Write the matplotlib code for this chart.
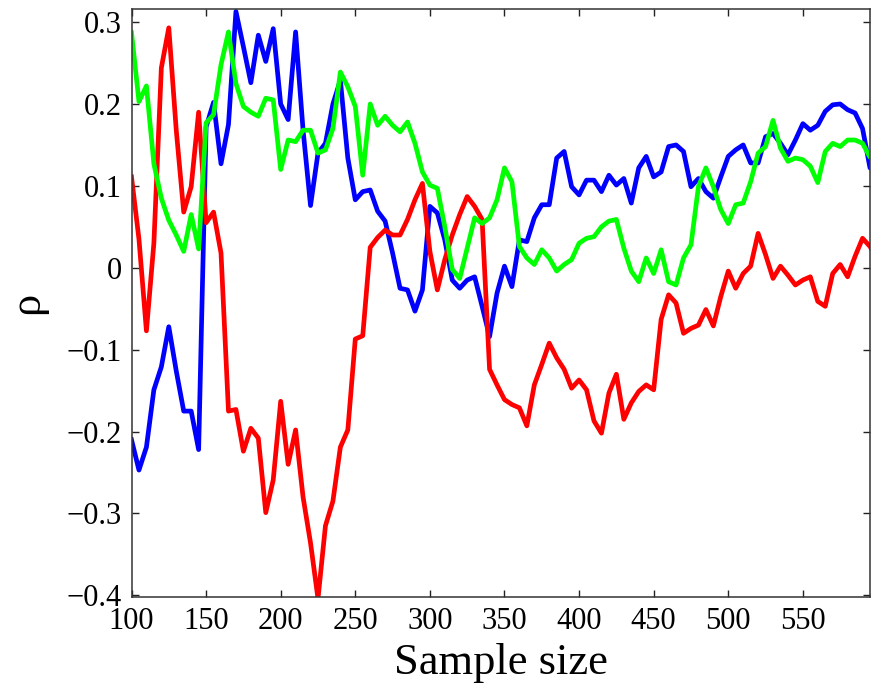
import numpy as np
import matplotlib
matplotlib.use("Agg")
import matplotlib.pyplot as plt
from matplotlib.ticker import FixedLocator, FixedFormatter

sample_size = list(range(100, 605, 5))

blue = [-0.210, -0.247, -0.219, -0.149, -0.121, -0.072, -0.126, -0.175, -0.175, -0.222,
        0.172, 0.202, 0.127, 0.175, 0.313, 0.270, 0.226, 0.284, 0.252, 0.292,
        0.200, 0.181, 0.288, 0.168, 0.076, 0.140, 0.152, 0.200, 0.229, 0.134,
        0.083, 0.093, 0.095, 0.069, 0.057, 0.018, -0.025, -0.027, -0.053, -0.027,
        0.075, 0.067, 0.034, -0.015, -0.025, -0.015, -0.011, -0.047, -0.084, -0.031,
        0.002, -0.023, 0.034, 0.032, 0.061, 0.077, 0.077, 0.134, 0.142, 0.099,
        0.089, 0.107, 0.107, 0.093, 0.113, 0.101, 0.109, 0.079, 0.122, 0.136,
        0.111, 0.117, 0.148, 0.150, 0.142, 0.099, 0.109, 0.093, 0.085, 0.111,
        0.136, 0.144, 0.150, 0.128, 0.128, 0.160, 0.164, 0.152, 0.138, 0.156,
        0.176, 0.168, 0.174, 0.191, 0.199, 0.200, 0.193, 0.189, 0.170, 0.122,
        0.120]

red = [0.111, 0.035, -0.077, 0.030, 0.244, 0.293, 0.168, 0.068, 0.099, 0.190,
       0.055, 0.068, 0.018, -0.175, -0.173, -0.224, -0.196, -0.208, -0.299, -0.259,
       -0.163, -0.240, -0.198, -0.280, -0.336, -0.404, -0.315, -0.285, -0.219, -0.198,
       -0.087, -0.083, 0.025, 0.037, 0.046, 0.040, 0.040, 0.059, 0.083, 0.103,
       0.020, -0.027, 0.010, 0.040, 0.065, 0.087, 0.075, 0.059, -0.124, -0.143,
       -0.161, -0.167, -0.171, -0.193, -0.143, -0.118, -0.092, -0.110, -0.124, -0.147,
       -0.137, -0.149, -0.187, -0.202, -0.153, -0.130, -0.185, -0.165, -0.151, -0.143,
       -0.149, -0.063, -0.033, -0.043, -0.080, -0.074, -0.070, -0.051, -0.071, -0.035,
       -0.004, -0.025, -0.007, 0.002, 0.042, 0.016, -0.013, 0.002, -0.009, -0.021,
       -0.015, -0.011, -0.041, -0.047, -0.007, 0.004, -0.011, 0.014, 0.036, 0.026,
       0.010]

green = [0.287, 0.203, 0.222, 0.127, 0.085, 0.058, 0.040, 0.020, 0.065, 0.023,
         0.177, 0.187, 0.248, 0.288, 0.225, 0.197, 0.190, 0.185, 0.207, 0.205,
         0.120, 0.156, 0.154, 0.168, 0.168, 0.140, 0.144, 0.170, 0.239, 0.221,
         0.197, 0.113, 0.200, 0.174, 0.185, 0.174, 0.166, 0.178, 0.152, 0.117,
         0.101, 0.097, 0.050, -0.002, -0.013, 0.024, 0.061, 0.054, 0.061, 0.083,
         0.122, 0.105, 0.026, 0.012, 0.004, 0.022, 0.012, -0.004, 0.004, 0.010,
         0.030, 0.036, 0.038, 0.050, 0.057, 0.059, 0.024, -0.004, -0.017, 0.012,
         -0.007, 0.022, -0.017, -0.021, 0.012, 0.028, 0.099, 0.122, 0.099, 0.071,
         0.054, 0.077, 0.079, 0.105, 0.140, 0.148, 0.180, 0.146, 0.130, 0.134,
         0.132, 0.124, 0.104, 0.142, 0.152, 0.148, 0.156, 0.156, 0.152, 0.135,
         0.160]

x_ticks = [100, 150, 200, 250, 300, 350, 400, 450, 500, 550]
x_tick_labels = ["100", "150", "200", "250", "300", "350", "400", "450", "500", "550"]
y_ticks = [-0.4, -0.3, -0.2, -0.1, 0.0, 0.1, 0.2, 0.3]
y_tick_labels = ["\u22120.4", "\u22120.3", "\u22120.2", "\u22120.1", "0", "0.1", "0.2", "0.3"]

plt.rcParams['font.family'] = ['Liberation Serif', 'DejaVu Serif']

fig = plt.figure(figsize=(8.73, 6.93), dpi=100)
ax = fig.add_axes([131.5 / 873, 1 - 597 / 693, (870 - 131.5) / 873, (597 - 9) / 693])

lw = 3.4
ax.plot(sample_size, blue, color=(0, 0, 1), lw=lw, solid_joinstyle='round')
ax.plot(sample_size, red, color=(1, 0, 0), lw=lw, solid_joinstyle='round')
ax.plot(sample_size, green, color=(0, 1, 0), lw=lw, solid_joinstyle='round')

ax.set_xlim(100, 595)
ax.set_ylim(-0.402, 0.316)

ax.xaxis.set_major_locator(FixedLocator(x_ticks))
ax.xaxis.set_major_formatter(FixedFormatter(x_tick_labels))
ax.yaxis.set_major_locator(FixedLocator(y_ticks))
ax.yaxis.set_major_formatter(FixedFormatter(y_tick_labels))

ax.tick_params(axis='both', which='both', direction='in', length=5, width=1.0,
               top=True, right=True, labelsize=22, colors='#222222', pad=7)
for lab in ax.get_xticklabels() + ax.get_yticklabels():
    lab.set_color('black')
for s in ax.spines.values():
    s.set_linewidth(1.1)
    s.set_color('#333333')

ax.set_xlabel("Sample size", fontsize=32, labelpad=5)
ax.set_ylabel("\u03c1", fontsize=32, labelpad=14)

fig.savefig("out.png", dpi=100)
